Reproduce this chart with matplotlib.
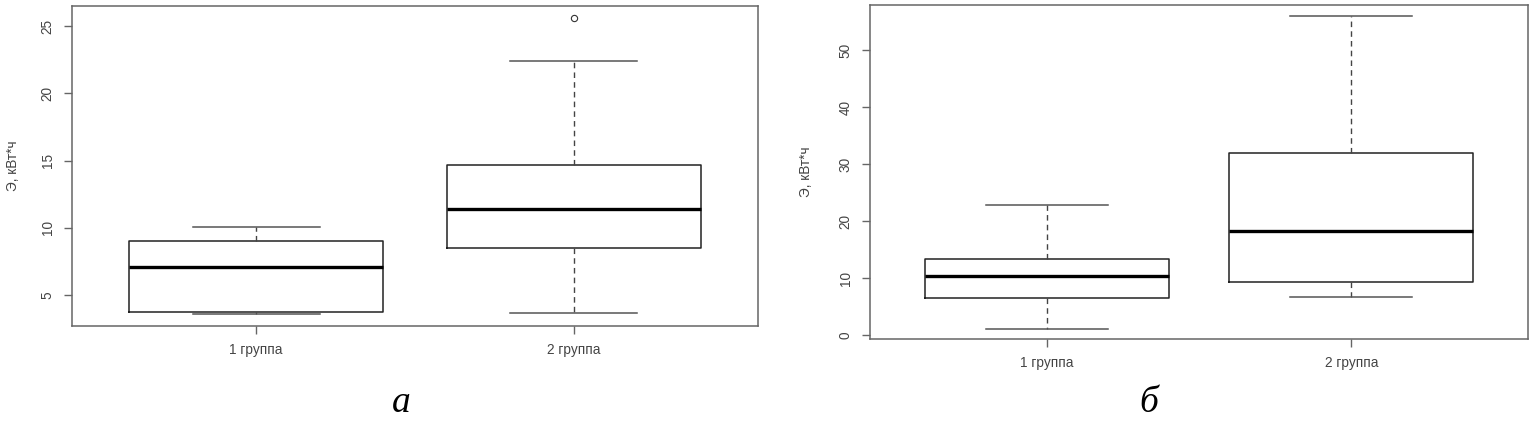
import matplotlib
matplotlib.use("Agg")
import matplotlib.pyplot as plt

plt.rcParams['font.family'] = ['Liberation Sans', 'DejaVu Sans']

# panel a values: whisker low, q1, median, q3, whisker high
groups = ["1 группа", "2 группа"]
a_whislo = [3.59, 3.66]
a_q1 = [3.76, 8.51]
a_med = [7.10, 11.41]
a_q3 = [9.03, 14.70]
a_whishi = [10.07, 22.40]
a_fliers = [[], [25.6]]

# panel b
b_whislo = [1.05, 6.67]
b_q1 = [6.5, 9.3]
b_med = [10.35, 18.25]
b_q3 = [13.3, 32.0]
b_whishi = [22.8, 55.96]
b_fliers = [[], []]

ylabel = "Э, кВт*ч"
panel_letters = ["а", "б"]

FRAME = "#666666"
TEXT = "#444444"
FS = 9.8


def make_stats(lo, q1, med, q3, hi, fl):
	return [dict(label=g, whislo=lo[i], q1=q1[i], med=med[i], q3=q3[i],
				 whishi=hi[i], fliers=fl[i]) for i, g in enumerate(groups)]


def draw_panel(ax, stats, ylim, yticks, label_x):
	ax.bxp(stats, positions=[1, 2], widths=0.8, showfliers=True,
		   boxprops=dict(color="#222222", linewidth=1.1),
		   medianprops=dict(color="black", linewidth=2.4),
		   whiskerprops=dict(color="#444444", linewidth=1.0, linestyle=(0, (4, 3))),
		   capprops=dict(color="#555555", linewidth=1.1),
		   capwidths=0.4,
		   flierprops=dict(marker="o", markersize=4.5, markerfacecolor="none",
						   markeredgecolor="#333333", markeredgewidth=0.8))
	ax.set_xlim(0.42, 2.58)
	ax.set_ylim(*ylim)
	ax.set_yticks(yticks)
	ax.set_xticks([1, 2])
	ax.set_xticklabels(groups)
	for s in ax.spines.values():
		s.set_color(FRAME)
		s.set_linewidth(1.1)
	ax.tick_params(axis="both", colors=FRAME, labelcolor=TEXT, labelsize=FS,
				   length=5.5, width=1.0)
	ax.tick_params(axis="y", labelrotation=90, pad=7)
	ax.tick_params(axis="x", pad=7)
	for t in ax.get_yticklabels():
		t.set_va("center")
	ax.set_ylabel(ylabel, color=TEXT, fontsize=FS)
	ax.yaxis.set_label_coords(label_x, 0.5)


fig = plt.figure(figsize=(15.36, 4.21), dpi=100)
ax1 = fig.add_axes([0.0469, 0.2257, 0.4466, 0.760])
ax2 = fig.add_axes([0.5664, 0.1948, 0.4284, 0.7945])

draw_panel(ax1, make_stats(a_whislo, a_q1, a_med, a_q3, a_whishi, a_fliers),
		   (2.70, 26.49), [5, 10, 15, 20, 25], -0.076)
draw_panel(ax2, make_stats(b_whislo, b_q1, b_med, b_q3, b_whishi, b_fliers),
		   (-0.7, 58.0), [0, 10, 20, 30, 40, 50], -0.0866)

fig.text(401 / 1536, 1 - 412 / 421, panel_letters[0], fontsize=27, style="italic",
		 family="Liberation Serif", ha="center", va="baseline")
fig.text(1149 / 1536, 1 - 412 / 421, panel_letters[1], fontsize=27, style="italic",
		 family="Liberation Serif", ha="center", va="baseline")

fig.savefig("out.png", dpi=100, facecolor="white")
